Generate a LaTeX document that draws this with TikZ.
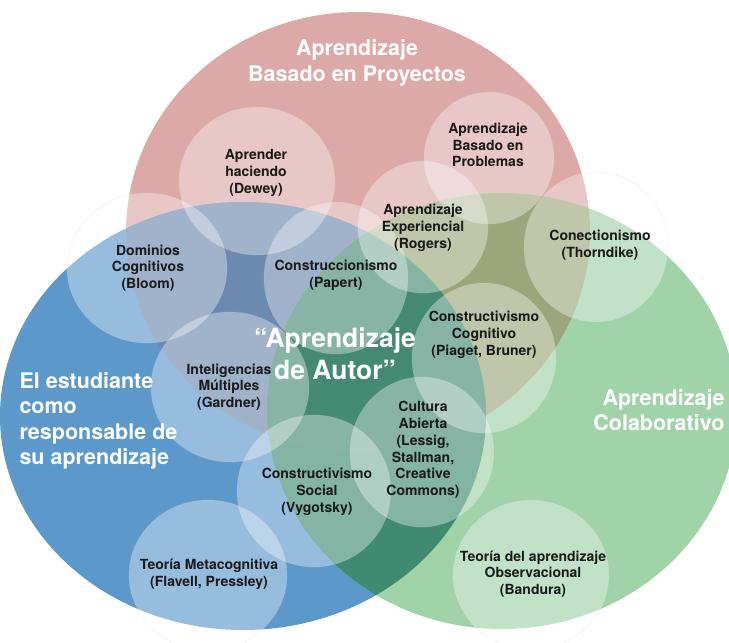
\documentclass[tikz,border=0pt]{standalone}
\usepackage{fontspec}
\setmainfont{TeX Gyre Heros}

\definecolor{rojo}{HTML}{DCA9A6}
\definecolor{azul}{HTML}{5C98CA}
\definecolor{verde}{HTML}{A0D3A8}
\definecolor{rojoazul}{HTML}{6C89AF}
\definecolor{rojoverde}{HTML}{9DA67A}
\definecolor{azulverde}{HTML}{3F8A70}
\definecolor{centro}{HTML}{448A73}

% the three big areas
\newcommand{\proyectos}{(358,232) ellipse [x radius=232, y radius=220]}
\newcommand{\estudiante}{(243,416) ellipse [x radius=243, y radius=214]}
\newcommand{\colaborativo}{(502,411) ellipse [x radius=235, y radius=218]}

\begin{document}
\begin{tikzpicture}[x=1pt, y=-1pt,
    burbuja/.style={fill=white, fill opacity=0.36, draw=black!20, draw opacity=0.22, line width=0.8pt},
    teoria/.style={text=black!90, align=center, font=\bfseries\fontsize{14}{16.8}\selectfont},
    titulo/.style={text=white, font=\bfseries\fontsize{21.5}{25.5}\selectfont}]
        \useasboundingbox (0,0) rectangle (729,643);
        \fill[white] (0,0) rectangle (729,643);
        \clip (0,0) rectangle (729,643);

        % base colours
        \fill[rojo] \proyectos;
        \fill[azul] \estudiante;
        \fill[verde] \colaborativo;
        % overlaps
        \begin{scope}
            \clip \proyectos;
            \fill[rojoazul] \estudiante;
            \fill[rojoverde] \colaborativo;
        \end{scope}
        \begin{scope}
            \clip \estudiante;
            \fill[azulverde] \colaborativo;
        \end{scope}
        \begin{scope}
            \clip \proyectos;
            \clip \estudiante;
            \fill[centro] \colaborativo;
        \end{scope}

        % small bubbles
        \path[burbuja] (257,181) ellipse [x radius=78, y radius=74];
        \path[burbuja] (489,158) ellipse [x radius=65, y radius=66];
        \path[burbuja] (423,227) ellipse [x radius=65, y radius=66];
        \path[burbuja] (596,247) ellipse [x radius=72, y radius=75];
        \path[burbuja] (147,268) ellipse [x radius=80, y radius=75];
        \path[burbuja] (336,278) ellipse [x radius=72, y radius=76];
        \path[burbuja] (484,358) ellipse [x radius=72, y radius=75];
        \path[burbuja] (230,387) ellipse [x radius=79, y radius=75];
        \path[burbuja] (422,452) ellipse [x radius=72, y radius=75];
        \path[burbuja] (314,491) ellipse [x radius=77, y radius=76];
        \path[burbuja] (208,575) ellipse [x radius=79, y radius=75];
        \path[burbuja] (531,575) ellipse [x radius=78, y radius=75];

        % titles
        \node[titulo, align=center] (abp) at (357,63) {Aprendizaje\\Basado en Proyectos};
        \node[titulo, align=left, anchor=west] (alumno) at (16,421) {El estudiante\\como\\responsable de\\su aprendizaje};
        \node[titulo, align=right, anchor=east] (colab) at (728,410) {Aprendizaje\\Colaborativo};
        \node[text=white, align=center, font=\bfseries\fontsize{26.5}{32}\selectfont] (autor) at (335,354) {“Aprendizaje\\de Autor”};

        % theories
        \node[teoria] (dewey) at (256,173) {Aprender\\haciendo\\(Dewey)};
        \node[teoria] (problemas) at (488,145) {Aprendizaje\\Basado en\\Problemas};
        \node[teoria] (rogers) at (423,228) {Aprendizaje\\Experiencial\\(Rogers)};
        \node[teoria] (thorndike) at (600,245) {Conectionismo\\(Thorndike)};
        \node[teoria] (bloom) at (148,268) {Dominios\\Cognitivos\\(Bloom)};
        \node[teoria] (papert) at (336,275) {Construccionismo\\(Papert)};
        \node[teoria] (piaget) at (484,335) {Constructivismo\\Cognitivo\\(Piaget, Bruner)};
        \node[teoria] (gardner) at (229,387) {Inteligencias\\Múltiples\\(Gardner)};
        \node[teoria] (cultura) at (423,450) {Cultura\\Abierta\\(Lessig,\\Stallman,\\Creative\\Commons)};
        \node[teoria] (vygotsky) at (317,492) {Constructivismo\\Social\\(Vygotsky)};
        \node[teoria] (flavell) at (209,574) {Teoría Metacognitiva\\(Flavell, Pressley)};
        \node[teoria] (bandura) at (533,574) {Teoría del aprendizaje\\Observacional\\(Bandura)};

    \end{tikzpicture}
\end{document}
